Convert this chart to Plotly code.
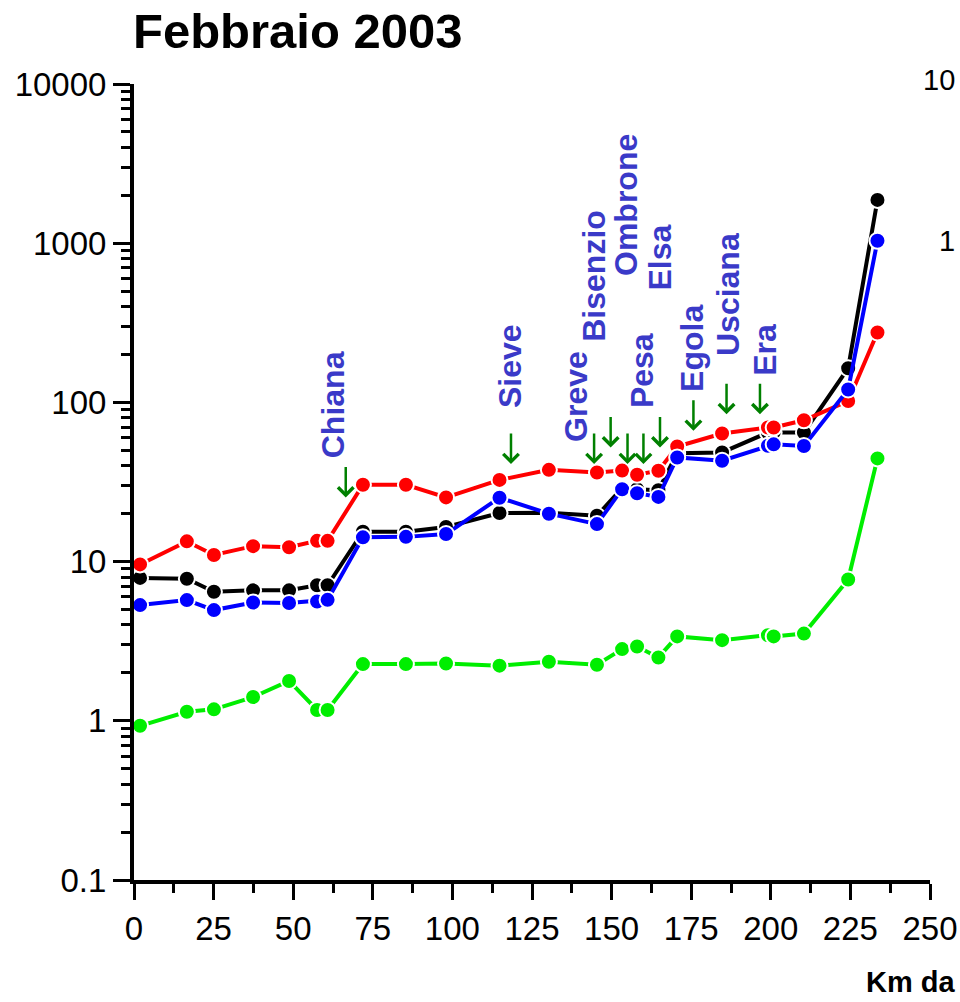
import numpy as np
import plotly.graph_objects as go

#%% Data

km = [1.9, 16.6, 25.1, 37.4, 48.7, 57.5, 60.8, 71.9, 85.4, 98.0, 114.8, 130.3,
      145.4, 153.3, 158.0, 164.7, 170.6, 184.7, 199.1, 200.9, 210.4, 224.3, 233.5]

red = [9.6, 13.4, 11.0, 12.5, 12.3, 13.5, 13.5, 30.4, 30.4, 25.3, 32.6, 37.7,
       36.3, 37.3, 35.1, 37.2, 52.8, 63.8, 69.5, 69.5, 77.2, 102, 275]
black = [7.9, 7.8, 6.46, 6.6, 6.6, 7.1, 7.1, 15.4, 15.4, 16.5, 20.2, 20.3,
         19.4, 29.0, 28.5, 28.1, 48.0, 48.5, 64.7, 64.7, 64.7, 164, 1870]
blue = [5.33, 5.73, 4.96, 5.53, 5.49, 5.62, 5.75, 14.2, 14.3, 14.9, 25.2, 20.0,
        17.2, 28.5, 26.9, 25.5, 45.1, 43.0, 53.4, 54.5, 53.2, 120.6, 1035]
green = [0.93, 1.14, 1.18, 1.41, 1.78, 1.17, 1.17, 2.27, 2.27, 2.29, 2.22, 2.35,
         2.25, 2.82, 2.93, 2.5, 3.39, 3.21, 3.45, 3.39, 3.53, 7.72, 44.5]

# tributaries: arrow position (km, value at arrow tip) and label position
rivers = ["Chiana", "Sieve", "Greve", "Bisenzio", "Ombrone", "Pesa", "Elsa",
          "Egola", "Usciana", "Era"]
arrow_km = [66.5, 118.4, 144.5, 149.7, 155.0, 160.0, 165.2, 175.7, 186.1, 196.6]
arrow_val = [25.3, 41.0, 41.0, 52.1, 41.0, 41.0, 52.1, 66.3, 84.4, 84.4]
label_km = [62.5, 118.1, 138.8, 144.2, 154.5, 159.4, 164.9, 175.4, 186.4, 198.2]
label_val = [43.0, 89.5, 55.2, 234, 604, 89.5, 490, 113, 190, 143]

y_ticks = [0.1, 1, 10, 100, 1000, 10000]
x_ticks = list(range(0, 251, 25))

#%% Figure

FONT = "Liberation Sans, Arial, sans-serif"
W, H, L, R, T, B = 960, 1002, 134, 30, 84, 122
fig = go.Figure()

for vals, col in [(green, "#00ee00"), (black, "#000000"),
                  (red, "#ff0000"), (blue, "#0000ff")]:
    fig.add_trace(go.Scatter(
        x=km, y=vals, mode="lines+markers",
        line=dict(color=col, width=4),
        marker=dict(color=col, size=16, line=dict(color="white", width=2)),
        showlegend=False, cliponaxis=False))

ann = []
for name, ak, av, lk, lv in zip(rivers, arrow_km, arrow_val, label_km, label_val):
    ann.append(dict(x=ak, y=np.log10(av), xref="x", yref="y", text="",
                    showarrow=True, ax=0, ay=-32, arrowhead=4, arrowsize=1.2,
                    arrowwidth=2.5, arrowcolor="#008000"))
    ann.append(dict(x=lk, y=np.log10(lv), xref="x", yref="y",
                    text="<b>%s</b>" % name, textangle=-90, showarrow=False,
                    xanchor="center", yanchor="bottom",
                    font=dict(family=FONT, size=32, color="#3a3ac8")))


def px_note(x, y, text, size, bold=False, anchor="left"):
    # text placed by pixel position, converted to paper coords
    return dict(x=(x - L) / (W - L - R), y=(H - B - y) / (H - T - B),
                xref="paper", yref="paper", xanchor=anchor, yanchor="middle",
                showarrow=False, text="<b>%s</b>" % text if bold else text,
                font=dict(family=FONT, size=size, color="black"))


ann.append(px_note(131, 31, "Febbraio 2003", 49, bold=True))
# pieces of the neighbouring panel cut by the frame
ann.append(px_note(864, 982, "Km da", 29, bold=True))
ann.append(px_note(957, 80, "10", 29, anchor="right"))
ann.append(px_note(957, 241, "1", 29, anchor="right"))

fig.update_layout(
    width=W, height=H,
    margin=dict(l=L, r=R, t=T, b=B, autoexpand=False),
    paper_bgcolor="white", plot_bgcolor="white",
    font=dict(family=FONT, color="black"),
    annotations=ann,
    xaxis=dict(range=[0, 250], tickvals=x_ticks, showgrid=False, zeroline=False,
               automargin=False,
               showline=True, linewidth=4, linecolor="black",
               ticks="outside", ticklen=16, tickwidth=3, tickcolor="black",
               minor=dict(tickvals=[12.5 + 25 * i for i in range(10)],
                          ticks="outside", ticklen=9, tickwidth=3, tickcolor="black"),
               tickfont=dict(family=FONT, size=33)),
    yaxis=dict(type="log", range=[-1, 4], tickvals=y_ticks,
               ticktext=[str(v) for v in y_ticks],
               showgrid=False, zeroline=False, automargin=False,
               showline=True, linewidth=4, linecolor="black",
               ticks="outside", ticklen=17, tickwidth=3, tickcolor="black",
               minor=dict(tickvals=[m * 10.0 ** e for e in range(-1, 4) for m in range(2, 10)],
                          ticks="outside", ticklen=9, tickwidth=3, tickcolor="black"),
               tickfont=dict(family=FONT, size=33)),
)

# the page body has an 8px default margin; drop it so the figure sits at 0,0
fig.write_html("out.html", config={"displayModeBar": False},
               post_script="document.body.style.margin='0';")
